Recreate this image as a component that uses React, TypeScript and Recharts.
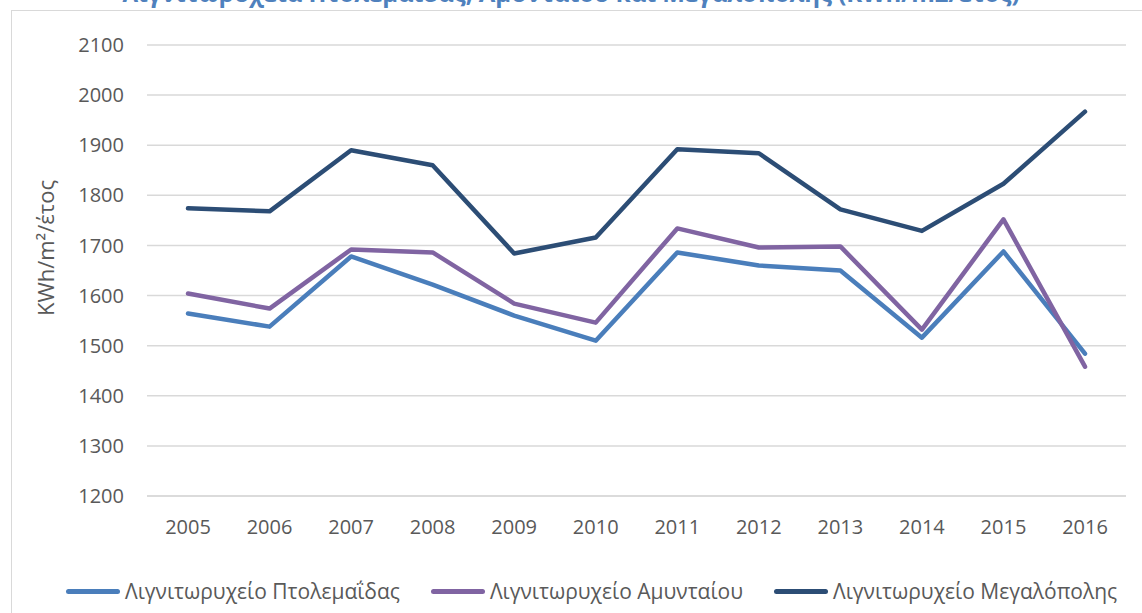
import React from 'react';
import { LineChart, Line, XAxis, YAxis, CartesianGrid, Legend } from 'recharts';

const years = ['2005', '2006', '2007', '2008', '2009', '2010', '2011', '2012', '2013', '2014', '2015', '2016'];
const ptolemaidas = [1564, 1538, 1678, 1622, 1560, 1510, 1686, 1660, 1650, 1516, 1688, 1484];
const amyntaiou = [1604, 1574, 1692, 1686, 1584, 1546, 1734, 1696, 1698, 1532, 1752, 1458];
const megalopolis = [1774, 1768, 1890, 1860, 1684, 1716, 1892, 1884, 1772, 1729, 1823, 1967];
const yTicks = [1200, 1300, 1400, 1500, 1600, 1700, 1800, 1900, 2000, 2100];

const seriesNames = ['Λιγνιτωρυχείο Πτολεμαΐδας', 'Λιγνιτωρυχείο Αμυνταίου', 'Λιγνιτωρυχείο Μεγαλόπολης'];
const seriesColors = ['#4a7ebb', '#8064a2', '#2c4d75'];
const title = 'Λιγνιτωρυχεία Πτολεμαΐδας, Αμυνταίου και Μεγαλόπολης (KWh/m2/έτος)';

const data = years.map((year, i) => ({
  year,
  ptolemaidas: ptolemaidas[i],
  amyntaiou: amyntaiou[i],
  megalopolis: megalopolis[i],
}));

const FONT = '"Open Sans", "DejaVu Sans", sans-serif';

function LegendContent() {
  return (
    <div style={{ display: 'flex', paddingLeft: 66, alignItems: 'center', height: 44, fontFamily: FONT }}>
      {seriesNames.map((name, i) => (
        <div key={name} style={{ display: 'flex', alignItems: 'center', marginRight: 31 }}>
          <span
            style={{
              display: 'inline-block',
              width: 54,
              height: 5,
              borderRadius: 3,
              background: seriesColors[i],
              marginRight: 5,
            }}
          />
          <span style={{ fontSize: 21, color: '#595959', whiteSpace: 'nowrap' }}>{name}</span>
        </div>
      ))}
    </div>
  );
}

function YLabel() {
  return (
    <text
      x={45}
      y={248}
      transform="rotate(-90 45 248)"
      textAnchor="middle"
      dominantBaseline="central"
      fontSize={22}
      fill="#595959"
      fontFamily={FONT}
    >
      KWh/m²/έτος
    </text>
  );
}

export default function App() {
  return (
    <div style={{ position: 'absolute', top: 0, left: 0, width: 1142, height: 613, overflow: 'hidden', background: '#fff' }}>
      <div
        style={{
          position: 'absolute',
          left: 11,
          top: 10,
          width: 1200,
          height: 700,
          border: '1px solid #d9d9d9',
        }}
      />
      {/* title is clipped by the top edge, as in the source image */}
      <svg style={{ position: 'absolute', left: 0, top: 0 }} width={1142} height={30}>
        <text x={571} y={2} textAnchor="middle" fontSize={24} fontWeight="bold" fill="#4f81bd" fontFamily={FONT}>
          {title}
        </text>
      </svg>
      <div style={{ position: 'absolute', left: 0, top: 0 }}>
        <LineChart width={1142} height={613} data={data} margin={{ top: 45, right: 16, left: 0, bottom: 0 }}>
          <CartesianGrid vertical={false} stroke="#d9d9d9" strokeWidth={1.5} />
          <XAxis
            dataKey="year"
            height={73}
            axisLine={{ stroke: '#d9d9d9', strokeWidth: 1.5 }}
            tickLine={false}
            tickMargin={18}
            padding={{ left: 41, right: 41 }}
            tick={{ fontSize: 20, fill: '#595959', fontFamily: FONT }}
          />
          <YAxis
            width={147}
            domain={[1200, 2100]}
            ticks={yTicks}
            axisLine={false}
            tickLine={false}
            tickMargin={17}
            tick={{ fontSize: 20, fill: '#595959', fontFamily: FONT }}
            label={<YLabel />}
          />
          <Legend verticalAlign="bottom" height={44} content={<LegendContent />} />
          <Line
            dataKey="ptolemaidas"
            name={seriesNames[0]}
            stroke={seriesColors[0]}
            strokeWidth={4.5}
            dot={false}
            strokeLinecap="round"
            strokeLinejoin="round"
            isAnimationActive={false}
          />
          <Line
            dataKey="amyntaiou"
            name={seriesNames[1]}
            stroke={seriesColors[1]}
            strokeWidth={4.5}
            dot={false}
            strokeLinecap="round"
            strokeLinejoin="round"
            isAnimationActive={false}
          />
          <Line
            dataKey="megalopolis"
            name={seriesNames[2]}
            stroke={seriesColors[2]}
            strokeWidth={4.5}
            dot={false}
            strokeLinecap="round"
            strokeLinejoin="round"
            isAnimationActive={false}
          />
        </LineChart>
      </div>
    </div>
  );
}
